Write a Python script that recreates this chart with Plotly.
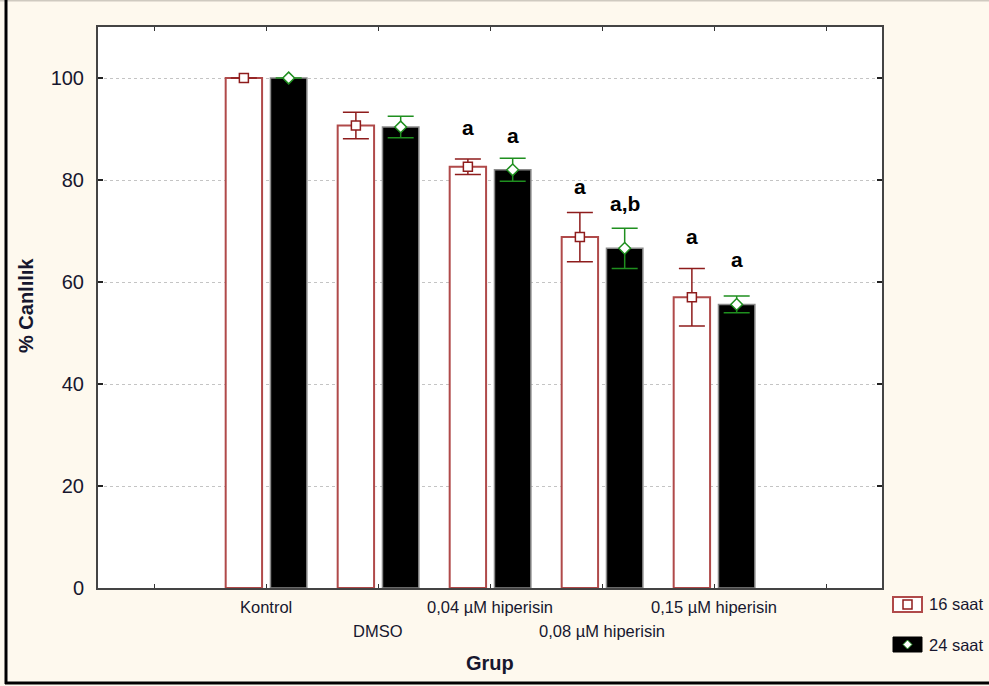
import plotly.graph_objects as go

# Groups (positions 1..5 on a numeric axis; 0 and 6 are empty slots)
groups = ["Kontrol", "DMSO", "0,04 µM hiperisin", "0,08 µM hiperisin", "0,15 µM hiperisin"]
series_names = ["16 saat", "24 saat"]

# Mean viability (%) and error (±) per group
mean_16 = [100.0, 90.7, 82.6, 68.8, 57.0]
err_16 = [0.0, 2.6, 1.5, 4.85, 5.65]
mean_24 = [100.0, 90.4, 82.0, 66.6, 55.6]
err_24 = [0.0, 2.1, 2.25, 3.95, 1.65]

# Significance letters
sig_16 = ["", "", "a", "a", "a"]
sig_24 = ["", "", "a", "a,b", "a"]

y_ticks = [0, 20, 40, 60, 80, 100]

# ---- layout geometry (pixels) ----
W, H = 989, 686
L, R, T, B = 98, 882, 27, 588


def pxx(x):
    return (x - L) / (R - L)


def pxy(y):
    return (B - y) / (B - T)


FONT = "Arial, 'Liberation Sans', sans-serif"
TXT = "#17172e"
RED_EDGE = "#b04a4a"
RED_ERR = "#8e1c1c"
GREEN = "#1f8f1f"

BAR_W = 0.325
OFF_16 = -0.36
OFF_24 = 0.04

xs = list(range(1, len(groups) + 1))
xm_16 = [x + OFF_16 + BAR_W / 2 for x in xs]
xm_24 = [x + OFF_24 + BAR_W / 2 for x in xs]

fig = go.Figure()

fig.add_trace(go.Bar(
    x=xs, y=mean_16, width=BAR_W, offset=OFF_16, name=series_names[0],
    marker=dict(color="white", line=dict(color=RED_EDGE, width=2)),
    showlegend=False,
))
fig.add_trace(go.Bar(
    x=xs, y=mean_24, width=BAR_W, offset=OFF_24, name=series_names[1],
    marker=dict(color="black", line=dict(color="#8a8a8a", width=1.5)),
    showlegend=False,
))

# Means with error bars
fig.add_trace(go.Scatter(
    x=xm_16, y=mean_16, mode="markers",
    marker=dict(symbol="square", size=9, color="white", line=dict(color=RED_ERR, width=1.5)),
    error_y=dict(type="data", array=err_16, color=RED_ERR, thickness=1.5, width=13),
    showlegend=False,
))
fig.add_trace(go.Scatter(
    x=xm_24, y=mean_24, mode="markers",
    marker=dict(symbol="diamond", size=9, color="white", line=dict(color=GREEN, width=1.5)),
    error_y=dict(type="data", array=err_24, color=GREEN, thickness=1.5, width=13),
    showlegend=False,
))

# Letter placement heights (data units)
sig_y_16 = [None, None, 90.2, 78.8, 69.0]
sig_y_24 = [None, None, 88.7, 75.3, 64.5]

annotations = []
for i in range(len(groups)):
    for xm, txt, yy in ((xm_16[i], sig_16[i], sig_y_16[i]), (xm_24[i], sig_24[i], sig_y_24[i])):
        if txt:
            annotations.append(dict(
                x=xm, y=yy, xref="x", yref="y", text=txt, showarrow=False,
                font=dict(family=FONT, size=21, color="black", weight="bold"),
                xanchor="center", yanchor="middle",
            ))

# Staggered group labels
row_y = [607, 631]
for i, g in enumerate(groups):
    annotations.append(dict(
        x=xs[i], y=pxy(row_y[i % 2]), xref="x", yref="paper", text=g, showarrow=False,
        font=dict(family=FONT, size=16.5, color=TXT), xanchor="center", yanchor="middle",
    ))

# Axis titles
annotations.append(dict(
    x=pxx(490), y=pxy(663), xref="paper", yref="paper", text="Grup", showarrow=False,
    font=dict(family=FONT, size=20, color=TXT, weight="bold"), xanchor="center", yanchor="middle",
))
annotations.append(dict(
    x=pxx(26), y=pxy(306), xref="paper", yref="paper", text="% Canlılık", showarrow=False,
    textangle=-90, font=dict(family=FONT, size=20, color=TXT, weight="bold"),
    xanchor="center", yanchor="middle",
))

# Legend text
for name, yy in zip(series_names, [604, 645]):
    annotations.append(dict(
        x=pxx(927), y=pxy(yy), xref="paper", yref="paper", text=name, showarrow=False,
        font=dict(family=FONT, size=16.5, color=TXT), xanchor="left", yanchor="middle",
    ))

shapes = []
# Legend swatches
shapes.append(dict(type="rect", xref="paper", yref="paper",
                   x0=pxx(893), x1=pxx(922), y0=pxy(597), y1=pxy(612),
                   fillcolor="white", line=dict(color=RED_EDGE, width=2)))
shapes.append(dict(type="rect", xref="paper", yref="paper",
                   x0=pxx(903), x1=pxx(912), y0=pxy(600), y1=pxy(609),
                   fillcolor="white", line=dict(color=RED_ERR, width=1.5)))
shapes.append(dict(type="rect", xref="paper", yref="paper",
                   x0=pxx(893), x1=pxx(922), y0=pxy(637), y1=pxy(652),
                   fillcolor="black", line=dict(color="black", width=1)))
cx, cy = 907.5, 644.5
path = "M {} {} L {} {} L {} {} L {} {} Z".format(
    pxx(cx), pxy(cy - 4.5), pxx(cx + 4.5), pxy(cy), pxx(cx), pxy(cy + 4.5), pxx(cx - 4.5), pxy(cy))
shapes.append(dict(type="path", xref="paper", yref="paper", path=path,
                   fillcolor="white", line=dict(color=GREEN, width=1)))

# Outer frame
shapes.append(dict(type="line", xref="paper", yref="paper",
                   x0=pxx(0), x1=pxx(W), y0=pxy(0.5), y1=pxy(0.5),
                   line=dict(color="#cfcac0", width=2)))
shapes.append(dict(type="line", xref="paper", yref="paper",
                   x0=pxx(6), x1=pxx(6), y0=pxy(0), y1=pxy(684),
                   line=dict(color="black", width=3)))
shapes.append(dict(type="line", xref="paper", yref="paper",
                   x0=pxx(5), x1=pxx(W), y0=pxy(683), y1=pxy(683),
                   line=dict(color="black", width=3)))

fig.update_layout(
    width=W, height=H,
    margin=dict(l=L, r=W - R, t=T, b=H - B, pad=0),
    paper_bgcolor="#fef9ee", plot_bgcolor="white",
    barmode="overlay",
    showlegend=False,
    font=dict(family=FONT, color=TXT),
    annotations=annotations,
    shapes=shapes,
)
fig.update_xaxes(
    range=[-0.5, 6.5], tickvals=list(range(0, 7)), ticktext=[""] * 7,
    ticks="inside", ticklen=4, tickcolor="#333", tickwidth=1,
    showline=True, linecolor="#444", linewidth=2, mirror="ticks",
    showgrid=False, zeroline=False, fixedrange=True,
)
fig.update_yaxes(
    range=[0, 110], tickvals=y_ticks,
    ticks="inside", ticklen=5, tickcolor="#222", tickwidth=1.5,
    tickfont=dict(family=FONT, size=20, color=TXT), ticklabelstandoff=8,
    showline=True, linecolor="#444", linewidth=2, mirror="ticks",
    showgrid=True, gridcolor="#c4c4c4", gridwidth=1, griddash="dot",
    zeroline=False, fixedrange=True,
)

fig.write_html("out.html")
